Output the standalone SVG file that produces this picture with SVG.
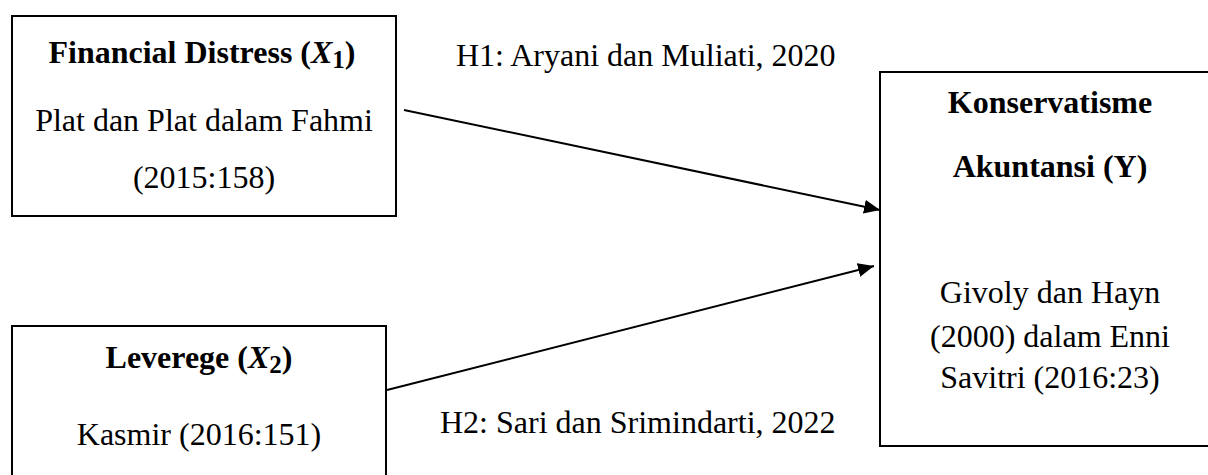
<svg xmlns="http://www.w3.org/2000/svg" width="1208" height="475" viewBox="0 0 1208 475">
<style>
  .box { fill: #fff; stroke: #000; stroke-width: 2; }
  .t { font-family: "Liberation Serif", "Times New Roman", serif; font-size: 32px; fill: #000; }
  .b { font-weight: bold; }
  .mid { text-anchor: middle; }
  .conn { stroke: #000; stroke-width: 2; fill: none; marker-end: url(#arr); }
</style>
<defs>
  <marker id="arr" viewBox="0 0 16 14" refX="16" refY="7" markerWidth="16" markerHeight="14" markerUnits="userSpaceOnUse" orient="auto">
    <path d="M0,0 L16,7 L0,14 Z" fill="#000"/>
  </marker>
</defs>
<rect width="1208" height="475" fill="#fff"/>
<g id="node-x1">
  <rect class="box" x="12" y="16" width="384" height="200"/>
  <text class="t b mid" x="202" y="63">Financial Distress (<tspan font-style="italic">X</tspan><tspan font-size="25" dy="5">1</tspan><tspan dy="-5">)</tspan></text>
  <text class="t mid" x="204" y="131">Plat dan Plat dalam Fahmi</text>
  <text class="t mid" x="204" y="188">(2015:158)</text>
</g>
<g id="node-x2">
  <rect class="box" x="12" y="326" width="374" height="160"/>
  <text class="t b mid" x="199" y="368">Leverege (<tspan font-style="italic">X</tspan><tspan font-size="25" dy="5">2</tspan><tspan dy="-5">)</tspan></text>
  <text class="t mid" x="199" y="445">Kasmir (2016:151)</text>
</g>
<g id="node-y">
  <rect class="box" x="880" y="72" width="340" height="374"/>
  <text class="t b mid" x="1050" y="113">Konservatisme</text>
  <text class="t b mid" x="1050" y="177">Akuntansi (Y)</text>
  <text class="t mid" x="1050" y="303">Givoly dan Hayn</text>
  <text class="t mid" x="1050" y="347">(2000) dalam Enni</text>
  <text class="t mid" x="1050" y="388">Savitri (2016:23)</text>
</g>
<g id="connectors">
  <line class="conn" x1="404" y1="110" x2="880" y2="210"/>
  <line class="conn" x1="387" y1="390" x2="874" y2="266"/>
  <text class="t" x="456" y="66">H1: Aryani dan Muliati, 2020</text>
  <text class="t" x="440" y="433">H2: Sari dan Srimindarti, 2022</text>
</g>
</svg>
